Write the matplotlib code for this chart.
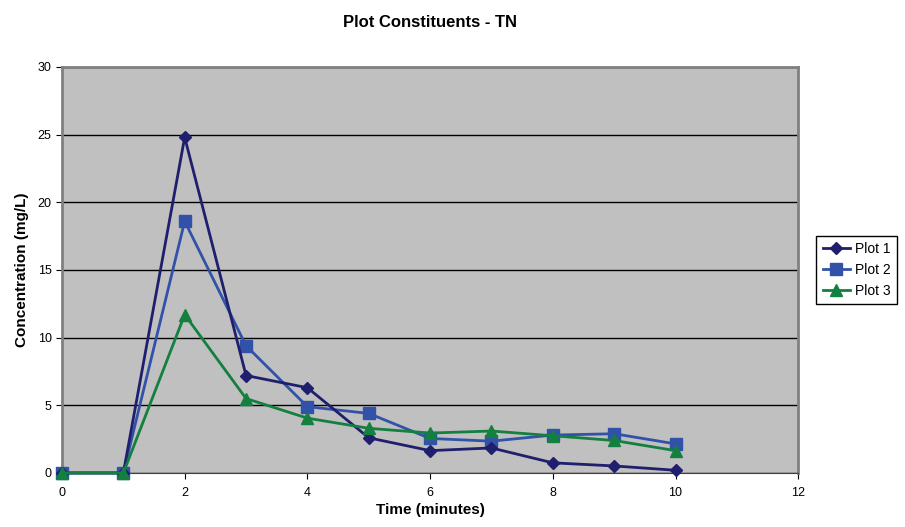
import matplotlib
matplotlib.use('Agg')
import matplotlib.pyplot as plt

plt.rcParams['font.family'] = ['Liberation Sans', 'DejaVu Sans']

# Time in minutes and TN concentrations for each plot
time = [0, 1, 2, 3, 4, 5, 6, 7, 8, 9, 10]
plot1 = [0, 0, 24.8, 7.2, 6.3, 2.6, 1.65, 1.85, 0.75, 0.52, 0.2]
plot2 = [0, 0, 18.6, 9.4, 4.9, 4.4, 2.55, 2.35, 2.8, 2.9, 2.15]
plot3 = [0, 0, 11.7, 5.5, 4.05, 3.3, 2.95, 3.1, 2.75, 2.4, 1.65]

fig = plt.figure(figsize=(9.05, 5.27), dpi=100)
ax = fig.add_axes([0.0685, 0.1025, 0.8135, 0.7705])
ax.set_facecolor('#C0C0C0')

ax.plot(time, plot1, color='#1F1F6E', marker='D', markersize=6, linewidth=2,
        label='Plot 1', clip_on=False, zorder=5)
ax.plot(time, plot2, color='#3152A8', marker='s', markersize=8, linewidth=2,
        label='Plot 2', clip_on=False, zorder=4)
ax.plot(time, plot3, color='#138040', marker='^', markersize=8, linewidth=2,
        label='Plot 3', clip_on=False, zorder=6)

ax.set_xlim(0, 12)
ax.set_ylim(0, 30)
ax.set_xticks(range(0, 13, 2))
ax.set_yticks(range(0, 31, 5))
ax.yaxis.grid(True, color='black', linewidth=1)
ax.set_axisbelow(True)
ax.tick_params(labelsize=9, length=4, direction='out')
ax.tick_params(axis='x', pad=6)

for side in ['top', 'right', 'left']:
    ax.spines[side].set_color('#808080')
    ax.spines[side].set_linewidth(2)
ax.spines['bottom'].set_color('#404040')

ax.set_title('Plot Constituents - TN', fontsize=12, fontweight='bold', pad=29)
ax.set_xlabel('Time (minutes)', fontsize=11, fontweight='bold', labelpad=3)
ax.set_ylabel('Concentration (mg/L)', fontsize=11, fontweight='bold', labelpad=6)

leg = ax.legend(loc='center left', bbox_to_anchor=(0.902, 0.488),
                bbox_transform=fig.transFigure, fontsize=10,
                frameon=True, fancybox=False, edgecolor='black', handlelength=2.0,
                labelspacing=0.5, borderpad=0.45, handletextpad=0.3,
                borderaxespad=0, framealpha=1)
leg.get_frame().set_linewidth(1)

fig.savefig('out.png', dpi=100)
